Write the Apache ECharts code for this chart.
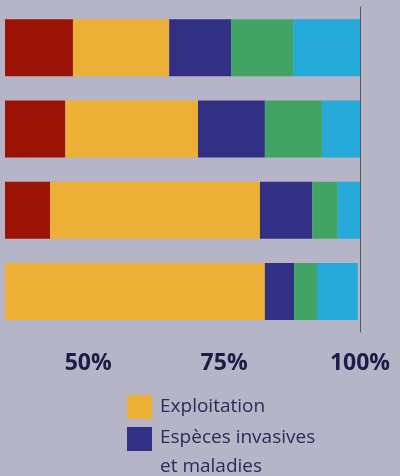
<!DOCTYPE html>
<html>
<head>
<meta charset="utf-8">
<script src="https://cdn.jsdelivr.net/npm/echarts@6/dist/echarts.min.js"></script>
<style>
  html, body { margin: 0; padding: 0; background: #b5b5c7; }
  #chart { width: 400px; height: 476px; }
</style>
</head>
<body>
<div id="chart"></div>
<script>
// catégories (de haut en bas)
var categories = ['Groupe 1', 'Groupe 2', 'Groupe 3', 'Groupe 4'];
// parts en % (empilées de gauche à droite)
var usage = [47.2, 45.8, 43.0, 20.0];
var exploitation = [17.7, 24.4, 38.6, 62.5];
var invasives = [11.4, 12.3, 9.6, 5.4];
var climat = [11.4, 10.5, 4.7, 4.2];
var pollution = [12.3, 7.0, 4.1, 7.5];
var tickValues = [50, 75, 100];

var myChart = echarts.init(document.getElementById('chart'));

function serie(name, data, color) {
  return {
    name: name,
    type: 'bar',
    stack: 'total',
    data: data,
    barWidth: 57,
    itemStyle: { color: color },
    emphasis: { disabled: true }
  };
}

var legendText = { color: '#2a2a5c', fontFamily: 'Open Sans', fontSize: 19 };

var option = {
  backgroundColor: '#b5b5c7',
  animation: false,
  grid: { left: 5, right: 40, top: 7, bottom: 144 },
  xAxis: {
    type: 'value',
    min: 34.7,
    max: 100,
    splitLine: { show: false },
    axisLine: { show: false },
    axisTick: { show: false },
    axisLabel: {
      customValues: tickValues,
      formatter: '{value}%',
      color: '#1c1c48',
      fontFamily: 'Open Sans',
      fontWeight: 'bold',
      fontSize: 23,
      margin: 20
    }
  },
  yAxis: {
    type: 'category',
    data: categories,
    inverse: true,
    position: 'right',
    axisLine: { show: true, lineStyle: { color: '#55555f', width: 1 } },
    axisTick: { show: false },
    axisLabel: { show: false }
  },
  legend: [
    {
      data: ['Exploitation'],
      left: 127,
      top: 395,
      padding: 0,
      itemWidth: 25,
      itemHeight: 24,
      icon: 'rect',
      selectedMode: false,
      textStyle: Object.assign({ padding: [0, 0, 0, 3] }, legendText)
    },
    {
      data: ['Espèces invasives et maladies'],
      left: 127,
      top: 423,
      padding: 0,
      itemWidth: 25,
      itemHeight: 50,
      // carré de 25x24 en haut d'une case de 50 px
      icon: 'path://M0,0L25,0L25,24L0,24Z M0,50L25,50',
      selectedMode: false,
      formatter: function (name) {
        return 'Espèces invasives\net maladies';
      },
      textStyle: Object.assign({ lineHeight: 29, padding: [0, 0, 0, 3] }, legendText)
    }
  ],
  series: [
    serie("Changement d'usage des terres et de la mer", usage, '#9b1306'),
    serie('Exploitation', exploitation, '#ebb035'),
    serie('Espèces invasives et maladies', invasives, '#323085'),
    serie('Changement climatique', climat, '#41a465'),
    serie('Pollution', pollution, '#25a9d9')
  ]
};

myChart.setOption(option);
window.addEventListener('resize', function () {
  myChart.resize();
});
</script>
</body>
</html>
